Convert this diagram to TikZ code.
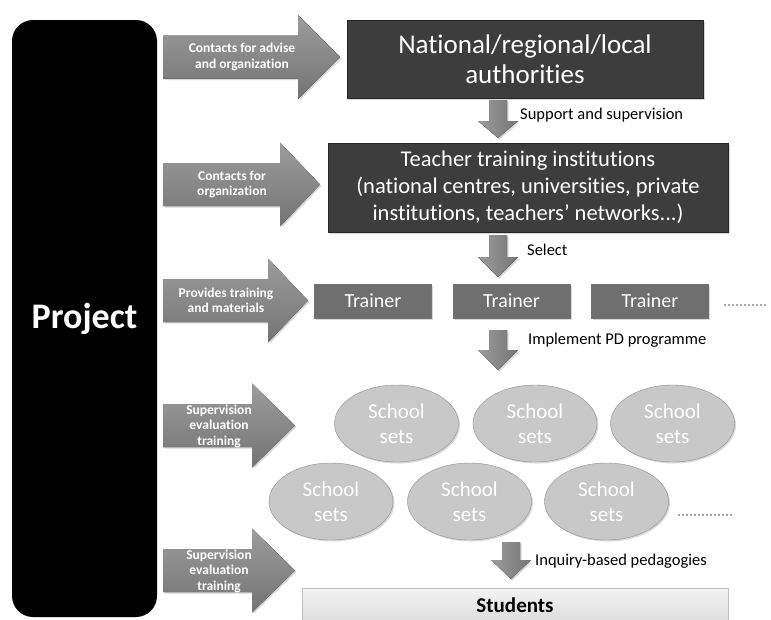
\documentclass[tikz,border=0pt]{standalone}
\usepackage{fontspec}
\setmainfont{Carlito}[Ligatures=NoCommon]
\usetikzlibrary{shapes.geometric,shadows}

\definecolor{boxdark}{HTML}{3D3D3D}
\definecolor{boxmid}{HTML}{6F6F6F}
\definecolor{arrowtop}{HTML}{9C9C9C}
\definecolor{arrowbot}{HTML}{747474}
\definecolor{ellfill}{HTML}{C8C8C8}
\definecolor{ellline}{HTML}{8E8E8E}
\definecolor{studtop}{HTML}{F3F3F3}
\definecolor{studbot}{HTML}{DDDDDD}

\begin{document}
\begin{tikzpicture}[
  shade/.style={drop shadow={opacity=0.3, shadow xshift=1.5pt, shadow yshift=-1.5pt}},
  projectbox/.style={fill=black, rounded corners=21pt, text=white, font=\bfseries\fontsize{36}{40}\selectfont},
  darkbox/.style={draw=black!85, fill=boxdark, text=white, align=center, inner sep=0pt, shade},
  trainerbox/.style={draw=black!55, fill=boxmid, text=white, inner sep=0pt, minimum width=117pt, minimum height=34pt, font=\fontsize{20}{24}\selectfont, shade},
  schoolset/.style={ellipse, draw=ellline, fill=ellfill, text=white, align=center, inner sep=0pt, minimum width=124pt, minimum height=77pt, font=\fontsize{21}{25}\selectfont, shade},
  sidearrow/.style={top color=arrowtop, bottom color=arrowbot, shade},
  downarrow/.style={left color=arrowtop, right color=arrowbot, shade},
  arrowtext/.style={text=white, align=center, font=\bfseries\fontsize{13.5}{15.5}\selectfont},
  steptext/.style={anchor=west, inner sep=0pt, font=\fontsize{16.5}{19}\selectfont},
  moredots/.style={draw=gray!70, line width=1.6pt, dash pattern=on 1.6pt off 2.4pt}]
  \useasboundingbox (0pt, 0pt) rectangle (771pt, -619pt);

  % project column
  \draw (84.5pt, -318.5pt)node[projectbox, minimum width=145pt, minimum height=597pt](project){Project};

  % arrows out of the project
  \foreach \yc/\hb/\tp in {57/298/340, 184.5/280/320, 300.5/268/308, 425.5/252/295, 570.5/252/295}
    \fill[sidearrow, yshift=-\yc*1pt] (163pt, 21.5pt) -- (\hb pt, 21.5pt) -- (\hb pt, 42pt) -- (\tp pt, 0pt)
      -- (\hb pt, -42pt) -- (\hb pt, -21.5pt) -- (163pt, -21.5pt) -- cycle;
  \draw (242.0pt, -57.0pt)node[arrowtext](a1){Contacts for advise\\and organization};
  \draw (232.0pt, -184.5pt)node[arrowtext](a2){Contacts for\\organization};
  \draw (226.0pt, -300.5pt)node[arrowtext](a3){Provides training\\and materials};
  \draw (219.0pt, -426.0pt)node[arrowtext](a4){Supervision\\evaluation\\training};
  \draw (219.0pt, -571.0pt)node[arrowtext](a5){Supervision\\evaluation\\training};

  % main chain
  \draw (525.0pt, -59.0pt)node[darkbox, minimum width=356pt, minimum height=78pt, font=\fontsize{27}{30}\selectfont](auth){National/regional/local\\authorities};
  \draw (528.0pt, -187.5pt)node[darkbox, minimum width=400pt, minimum height=89pt, font=\fontsize{22.5}{27}\selectfont](inst){Teacher training institutions\\(national centres, universities, private\\institutions, teachers’ networks...)};

  \draw (373.0pt, -301.0pt)node[trainerbox](t1){Trainer};
  \draw (511.5pt, -301.0pt)node[trainerbox](t2){Trainer};
  \draw (650.0pt, -301.0pt)node[trainerbox](t3){Trainer};
  \draw[moredots] (724pt, -305pt) -- (766pt, -305pt);

  \draw (396.5pt, -423.5pt)node[schoolset](s1){School\\sets};
  \draw (535.0pt, -423.5pt)node[schoolset](s2){School\\sets};
  \draw (672.5pt, -423.5pt)node[schoolset](s3){School\\sets};
  \draw (331.0pt, -501.5pt)node[schoolset](s4){School\\sets};
  \draw (469.5pt, -501.5pt)node[schoolset](s5){School\\sets};
  \draw (606.5pt, -501.5pt)node[schoolset](s6){School\\sets};
  \draw[moredots] (678pt, -515pt) -- (734pt, -515pt);

  \draw (515.0pt, -605.0pt)node[draw=gray!50, top color=studtop, bottom color=studbot, minimum width=426pt, minimum height=34pt, font=\bfseries\fontsize{21}{24}\selectfont](students){Students};

  % arrows down the chain
  \foreach \xc/\yt/\yh/\yp in {498/100/121/138, 498/235/257/277, 498/330/350/370, 511/542/560/579}
    \fill[downarrow, xshift=\xc*1pt] (-9pt, -\yt pt) -- (9pt, -\yt pt) -- (9pt, -\yh pt) -- (20pt, -\yh pt)
      -- (0pt, -\yp pt) -- (-20pt, -\yh pt) -- (-9pt, -\yh pt) -- cycle;
  \draw (520.0pt, -115.0pt)node[steptext](l1){Support and supervision};
  \draw (527.0pt, -250.0pt)node[steptext](l2){Select};
  \draw (528.0pt, -340.0pt)node[steptext](l3){Implement PD programme};
  \draw (535.0pt, -561.0pt)node[steptext](l4){Inquiry-based pedagogies};
\end{tikzpicture}
\end{document}
